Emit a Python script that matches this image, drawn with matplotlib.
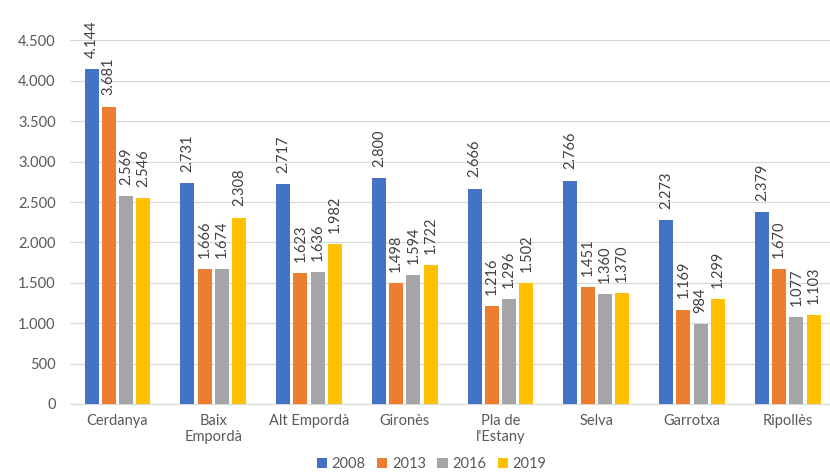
import matplotlib.pyplot as plt
import numpy as np
from matplotlib.ticker import FuncFormatter

plt.rcParams['font.family'] = ['Lato', 'DejaVu Sans']

comarques = ["Cerdanya", "Baix\nEmpordà", "Alt Empordà", "Gironès",
             "Pla de\nl'Estany", "Selva", "Garrotxa", "Ripollès"]
anys = ["2008", "2013", "2016", "2019"]
v2008 = [4144, 2731, 2717, 2800, 2666, 2766, 2273, 2379]
v2013 = [3681, 1666, 1623, 1498, 1216, 1451, 1169, 1670]
v2016 = [2569, 1674, 1636, 1594, 1296, 1360, 984, 1077]
v2019 = [2546, 2308, 1982, 1722, 1502, 1370, 1299, 1103]
yticks = [0, 500, 1000, 1500, 2000, 2500, 3000, 3500, 4000, 4500]

colors = ["#4472C4", "#ED7D31", "#A5A5A5", "#FFC000"]
series = [v2008, v2013, v2016, v2019]


def fmt(v):
    return f"{v:,.0f}".replace(",", ".")


fig = plt.figure(figsize=(8.3, 4.74), dpi=100)
ax = fig.add_axes([0.0839, 0.1477, 0.9161, 0.767])

x = np.arange(len(comarques))
width = 0.146
step = 0.18
for i, (vals, col, lab) in enumerate(zip(series, colors, anys)):
    pos = x + (i - 1.5) * step
    bars = ax.bar(pos, vals, width, color=col, label=lab, zorder=3)
    for b, v in zip(bars, vals):
        ax.annotate(fmt(v), (b.get_x() + b.get_width() / 2, v),
                    xytext=(0, 8), textcoords="offset points",
                    rotation=90, ha="center", va="bottom",
                    fontsize=10.5, color="#404040", annotation_clip=False)

ax.set_xlim(-0.5, 7.44)
ax.set_ylim(0, 4500)
ax.set_yticks(yticks)
ax.yaxis.set_major_formatter(FuncFormatter(lambda v, p: fmt(v)))
ax.set_xticks(x)
ax.set_xticklabels(comarques)
ax.tick_params(axis="both", length=0, labelsize=10.5, colors="#595959")
ax.tick_params(axis="x", pad=7)
ax.tick_params(axis="y", pad=10)
ax.grid(axis="y", color="#D9D9D9", linewidth=0.9, zorder=0)

for s in ["top", "right", "left"]:
    ax.spines[s].set_visible(False)
ax.spines["bottom"].set_color("#D9D9D9")

fig.legend(loc="lower center", bbox_to_anchor=(0.52, -0.022), ncol=4,
           frameon=False, fontsize=10.5, handlelength=0.7, handleheight=0.7,
           handletextpad=0.3, columnspacing=0.8, labelcolor="#595959")

fig.savefig("out.png", dpi=100)
